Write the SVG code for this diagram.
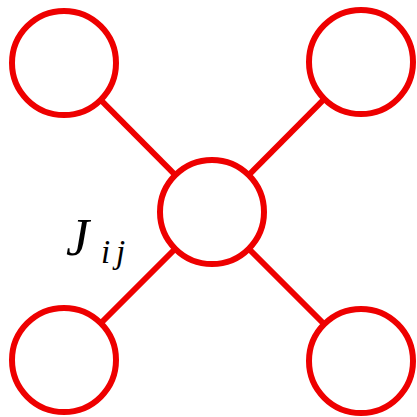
<svg xmlns="http://www.w3.org/2000/svg" width="417" height="417" viewBox="0 0 417 417">
<style>
.n{fill:#fff;stroke:#ee0000;stroke-width:6}
.e{stroke:#ee0000;stroke-width:6;stroke-linecap:butt}
.t{font-family:"Liberation Serif",serif;font-style:italic;fill:#000}
</style>
<rect width="417" height="417" fill="#fff"/>
<g id="edges">
<line class="e" x1="64" y1="63" x2="212" y2="212"/>
<line class="e" x1="361" y1="62" x2="212" y2="212"/>
<line class="e" x1="64" y1="360" x2="212" y2="212"/>
<line class="e" x1="361" y1="361" x2="212" y2="212"/>
</g>
<g id="n_tl"><circle class="n" cx="64" cy="63" r="52"/></g>
<g id="n_tr"><circle class="n" cx="361" cy="62" r="52"/></g>
<g id="n_bl"><circle class="n" cx="64" cy="360" r="52"/></g>
<g id="n_br"><circle class="n" cx="361" cy="361" r="52"/></g>
<g id="n_c"><circle class="n" cx="212" cy="212" r="52"/></g>
<g id="label"><text class="t" x="66" y="255" font-size="52">J<tspan font-size="33" x="101" y="263">i</tspan><tspan font-size="33" x="116" y="263">j</tspan></text></g>
</svg>
